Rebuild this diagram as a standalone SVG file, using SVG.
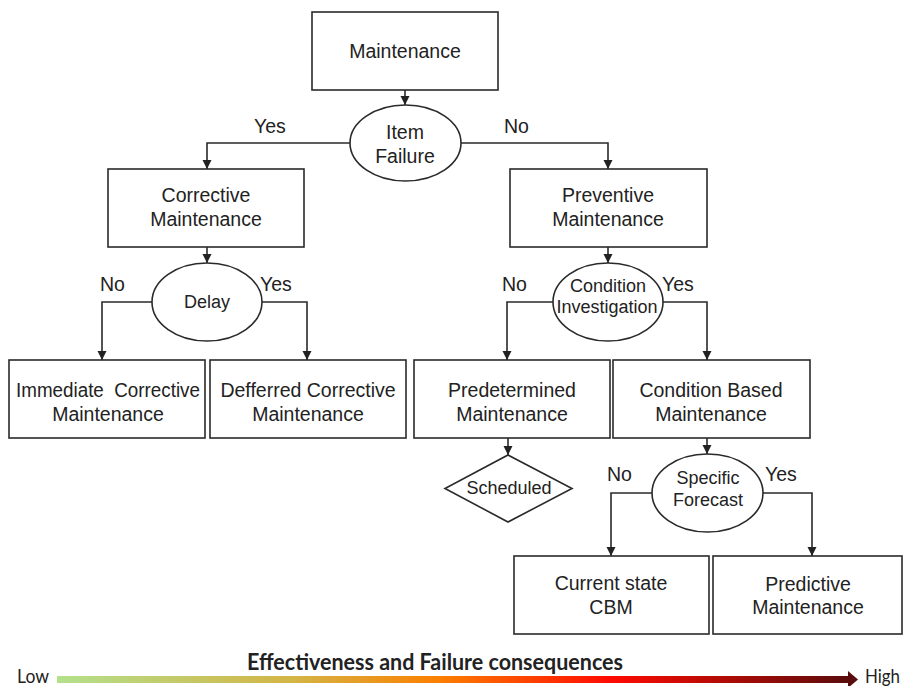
<svg xmlns="http://www.w3.org/2000/svg" width="903" height="686" viewBox="0 0 903 686">
<style>
.box{fill:#fff;stroke:#2a2a2a;stroke-width:1.6}
.t{font-family:"Liberation Sans",Arial,sans-serif;font-size:19.5px;fill:#222;text-anchor:middle}
.s{font-family:"Liberation Sans",Arial,sans-serif;font-size:18px;fill:#222;text-anchor:middle}
.lbl{font-family:"Liberation Sans",Arial,sans-serif;font-size:19.5px;fill:#222}
.c{fill:none;stroke:#2a2a2a;stroke-width:1.6}
.cal{font-family:Lato,"Open Sans",sans-serif;fill:#222}
</style>
<defs>
<marker id="ah" viewBox="0 0 10 10" refX="10" refY="5" markerWidth="9" markerHeight="10" markerUnits="userSpaceOnUse" orient="auto">
<path d="M0,0 L10,5 L0,10 Z" fill="#222"/>
</marker>
<linearGradient id="grad" x1="0" y1="0" x2="1" y2="0">
<stop offset="0" stop-color="#b3e08c"/>
<stop offset="0.3" stop-color="#d4b445"/>
<stop offset="0.48" stop-color="#fb8000"/>
<stop offset="0.7" stop-color="#ff0a00"/>
<stop offset="1" stop-color="#5a0c0c"/>
</linearGradient>
</defs>
<g id="connectors">
<path class="c" d="M405,90 V105" marker-end="url(#ah)"/>
<path class="c" d="M350,143 H207 V169" marker-end="url(#ah)"/>
<path class="c" d="M461,143 H608 V169" marker-end="url(#ah)"/>
<path class="c" d="M207,247 V263" marker-end="url(#ah)"/>
<path class="c" d="M152,302 H102 V360" marker-end="url(#ah)"/>
<path class="c" d="M262,302 H307 V360" marker-end="url(#ah)"/>
<path class="c" d="M608,247 V263" marker-end="url(#ah)"/>
<path class="c" d="M553,302 H507 V360" marker-end="url(#ah)"/>
<path class="c" d="M663,302 H707 V360" marker-end="url(#ah)"/>
<path class="c" d="M508,438 V455" marker-end="url(#ah)"/>
<path class="c" d="M707,438 V454" marker-end="url(#ah)"/>
<path class="c" d="M652,493 H611 V556" marker-end="url(#ah)"/>
<path class="c" d="M763,493 H812 V556" marker-end="url(#ah)"/>
</g>
<g id="labels">
<text class="lbl" x="254" y="133">Yes</text>
<text class="lbl" x="504" y="133">No</text>
<text class="lbl" x="100" y="291">No</text>
<text class="lbl" x="260" y="291">Yes</text>
<text class="lbl" x="502" y="291">No</text>
<text class="lbl" x="662" y="291">Yes</text>
<text class="lbl" x="607" y="481">No</text>
<text class="lbl" x="765" y="481">Yes</text>
</g>
<g id="maintenance">
<rect class="box" x="312" y="12" width="186" height="78"/>
<text class="t" x="405" y="58">Maintenance</text>
</g>
<g id="item-failure">
<ellipse class="box" cx="405.5" cy="143" rx="55.5" ry="38"/>
<text class="t" x="405" y="139">Item</text>
<text class="t" x="405" y="163">Failure</text>
</g>
<g id="corrective">
<rect class="box" x="108" y="169" width="196" height="78"/>
<text class="t" x="206" y="202">Corrective</text>
<text class="t" x="206" y="226">Maintenance</text>
</g>
<g id="preventive">
<rect class="box" x="510" y="169" width="197" height="78"/>
<text class="t" x="608" y="202">Preventive</text>
<text class="t" x="608" y="226">Maintenance</text>
</g>
<g id="delay">
<ellipse class="box" cx="207" cy="302" rx="55" ry="39"/>
<text class="s" x="207" y="308">Delay</text>
</g>
<g id="condition-investigation">
<ellipse class="box" cx="608" cy="302" rx="55" ry="39"/>
<text class="s" x="608" y="292">Condition</text>
<text class="s" x="607" y="313">Investigation</text>
</g>
<g id="immediate">
<rect class="box" x="9" y="360" width="196" height="78"/>
<text class="t" x="108" y="397" textLength="184" lengthAdjust="spacingAndGlyphs">Immediate&#160; Corrective</text>
<text class="t" x="108" y="421">Maintenance</text>
</g>
<g id="deferred">
<rect class="box" x="210" y="360" width="196" height="78"/>
<text class="t" x="308" y="397">Defferred Corrective</text>
<text class="t" x="308" y="421">Maintenance</text>
</g>
<g id="predetermined">
<rect class="box" x="414" y="360" width="196" height="78"/>
<text class="t" x="512" y="397">Predetermined</text>
<text class="t" x="512" y="421">Maintenance</text>
</g>
<g id="condition-based">
<rect class="box" x="613" y="360" width="197" height="78"/>
<text class="t" x="711" y="397">Condition Based</text>
<text class="t" x="711" y="421">Maintenance</text>
</g>
<g id="scheduled">
<polygon class="box" points="508,455 572,488.5 508,522 445,488.5"/>
<text class="s" x="509" y="494">Scheduled</text>
</g>
<g id="specific-forecast">
<ellipse class="box" cx="707.5" cy="493" rx="55.5" ry="39"/>
<text class="s" x="708" y="484">Specific</text>
<text class="s" x="708" y="506">Forecast</text>
</g>
<g id="current-state">
<rect class="box" x="514" y="556" width="195" height="78"/>
<text class="t" x="611" y="590">Current state</text>
<text class="t" x="611" y="614">CBM</text>
</g>
<g id="predictive">
<rect class="box" x="713" y="556" width="189" height="78"/>
<text class="t" x="808" y="591">Predictive</text>
<text class="t" x="808" y="614">Maintenance</text>
</g>
<g id="scale">
<rect x="57" y="676" width="792" height="7" fill="url(#grad)"/>
<path d="M848,671 L858,679.5 L848,688 Z" fill="#5a0c0c"/>
<text class="cal" x="247" y="670" font-size="22" font-weight="bold" textLength="376" lengthAdjust="spacingAndGlyphs">Effectiveness and Failure consequences</text>
<text class="cal" x="17" y="683" font-size="19" textLength="32" lengthAdjust="spacingAndGlyphs">Low</text>
<text class="cal" x="865" y="683" font-size="19" textLength="35" lengthAdjust="spacingAndGlyphs">High</text>
</g>
</svg>
